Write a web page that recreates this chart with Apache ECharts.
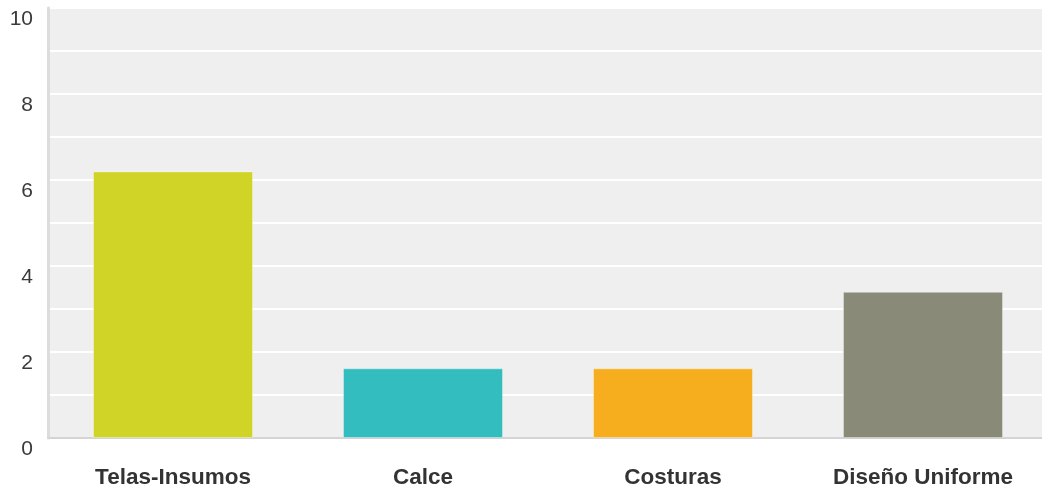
<!DOCTYPE html>
<html>
<head>
<meta charset="utf-8">
<script src="https://cdn.jsdelivr.net/npm/echarts@6/dist/echarts.min.js"></script>
<style>
  html, body { margin: 0; padding: 0; background: #fff; }
  #chart { width: 1042px; height: 489px; }
</style>
</head>
<body>
<div id="chart"></div>
<script>
// data
const categories = ['Telas-Insumos', 'Calce', 'Costuras', 'Diseño Uniforme']
const values = [6.2, 1.62, 1.62, 3.4]
const barColors = ['#cfd427', '#33bdbf', '#f6ae1f', '#8a8a78']
const yTickLabels = [0, 2, 4, 6, 8, 10]

const chart = echarts.init(document.getElementById('chart'))
const option = {
  animation: false,
  textStyle: { fontFamily: 'Liberation Sans, Arial, sans-serif' },
  grid: {
    left: 48, width: 1000, top: 8, bottom: 51,
    outerBoundsMode: 'none',
    show: true, backgroundColor: '#efefef', borderWidth: 0
  },
  xAxis: {
    type: 'category',
    data: categories,
    axisTick: { show: false },
    axisLine: { lineStyle: { color: '#d4d4d4', width: 2 } },
    axisLabel: { color: '#333', fontSize: 22.5, fontWeight: 'bold', margin: 28 }
  },
  yAxis: {
    type: 'value',
    min: 0, max: 10, interval: 1,
    axisLine: { show: true, lineStyle: { color: '#dcdcdc', width: 3 } },
    axisTick: { show: false },
    splitLine: { lineStyle: { color: '#ffffff', width: 2 } },
    axisLabel: {
      color: '#3a3a3a', fontSize: 21, margin: 15,
      verticalAlign: 'top', lineHeight: 21, padding: [1, 0, 0, 0],
      formatter: v => yTickLabels.includes(v) ? String(v) : ''
    }
  },
  series: [{
    type: 'bar',
    barCategoryGap: '36%',
    data: values.map((v, i) => ({ value: v, itemStyle: { color: barColors[i] } })),
    itemStyle: { borderColor: 'rgba(255,255,255,0.35)', borderWidth: 1 }
  }]
}
chart.setOption(option)
</script>
</body>
</html>
